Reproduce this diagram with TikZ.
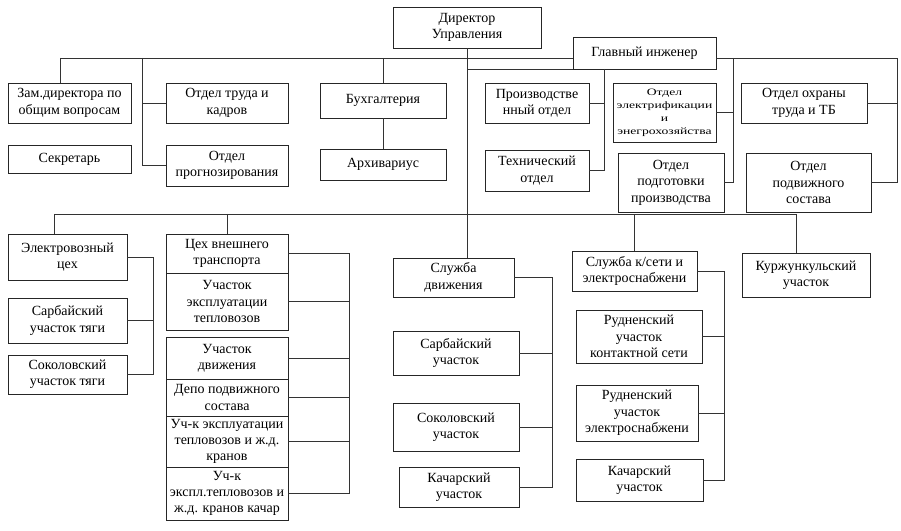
\documentclass[tikz,border=0pt]{standalone}
\usepackage{fontspec}
\setmainfont{Liberation Serif}
\newfontfamily\widefont[FakeStretch=1.4]{Liberation Serif}
\begin{document}
\begin{tikzpicture}[x=0.75pt, y=-0.75pt,
    every node/.style={font=\fontsize{10.5}{12.3}\selectfont},
    unit/.style 2 args={draw=black!85, line width=0.7pt, rectangle, align=center, inner sep=0.5pt,
        minimum width=#1*0.75pt, minimum height=#2*0.75pt},
    link/.style={draw=black!80, line width=0.7pt}]
    \useasboundingbox (0,0) rectangle (901,531);

    % Head and chief engineer
    \node[unit={148}{41}] (dir) at (467,27.5) {Директор\\Управления};
    \node[unit={143}{32}] (chief) at (644.5,53) {Главный инженер};

    % Departments under the director
    \node[unit={123}{40}] (zam)  at (69.5,103)  {Зам.директора по\\общим вопросам};
    \node[unit={123}{28}] (secr) at (69.5,159)  {Секретарь};
    \node[unit={122}{40}] (kadr) at (227,103)   {Отдел труда и\\кадров};
    \node[unit={122}{41}] (prog) at (227,165.5) {Отдел\\прогнозирования};
    \node[unit={126}{35}] (buh)  at (383,100.5) {Бухгалтерия};
    \node[unit={126}{31}] (arch) at (383,164.5) {Архивариус};

    % Departments under the chief engineer
    \node[unit={104}{40}] (proizv) at (537,103)   {Производстве\\нный отдел};
    \node[unit={104}{41}] (tech)   at (537,170.5) {Технический\\отдел};
    \node[unit={103}{59}, font=\widefont\fontsize{7.3}{9.8}\selectfont] (elektr) at (664.5,112.5) {Отдел\\электрификации\\и\\энегрохозяйства};
    \node[unit={106}{59}] (podg) at (671,182.5)   {Отдел\\подготовки\\производства};
    \node[unit={126}{40}] (ohr)  at (804,103)     {Отдел охраны\\труда и ТБ};
    \node[unit={125}{59}] (podv) at (808.5,182.5) {Отдел\\подвижного\\состава};

    % Shops
    \node[unit={119}{46}] (elc)   at (67.5,257)   {Электровозный\\цех};
    \node[unit={119}{45}] (sarbT) at (67.5,320.5) {Сарбайский\\участок тяги};
    \node[unit={119}{39}] (sokT)  at (67.5,374.5) {Соколовский\\участок тяги};

    \node[unit={122}{39}] (ceh)   at (227,253.5) {Цех внешнего\\транспорта};
    \node[unit={122}{57}] (uet)   at (227,301.5) {Участок\\эксплуатации\\тепловозов};
    \node[unit={122}{42}] (udv)   at (227,358)   {Участок\\движения};
    \node[unit={122}{37}] (depo)  at (227,397.5) {Депо подвижного\\состава};
    \node[unit={122}{51}] (uek)   at (227,441.5) {Уч-к эксплуатации\\тепловозов и ж.д.\\кранов};
    \node[unit={122}{53}] (ukach) at (227,493.5) {Уч-к\\экспл.тепловозов и\\ж.д. кранов качар};

    \node[unit={121}{39}] (sdv)  at (453.5,277.5) {Служба\\движения};
    \node[unit={126}{44}] (sarb) at (456,353)     {Сарбайский\\участок};
    \node[unit={126}{48}] (sok)  at (456,427)     {Соколовский\\участок};
    \node[unit={120}{40}] (kach) at (459,487)     {Качарский\\участок};

    \node[unit={125}{40}] (sks)   at (634.5,271) {Служба к/сети и\\электроснабжени};
    \node[unit={126}{53}] (rks)   at (639,336.5) {Рудненский\\участок\\контактной сети};
    \node[unit={122}{56}] (res)   at (637,413)   {Рудненский\\участок\\электроснабжени};
    \node[unit={127}{42}] (kach2) at (639.5,480) {Качарский\\участок};

    \node[unit={128}{44}] (kurzh) at (806,275) {Куржункульский\\участок};

    % Bus lines
    \coordinate (tbL) at (60,58);
    \coordinate (tbK) at (142,58);
    \coordinate (pbus) at (604,69);
    \coordinate (mbus) at (733,58);
    \coordinate (rbus) at (897,58);
    \coordinate (bbL) at (54,214);
    \coordinate (bbR) at (796,214);
    \coordinate (lv) at (153,0);
    \coordinate (mv) at (349,0);
    \coordinate (dv) at (552,0);
    \coordinate (kv) at (724,0);

    % Upper level
    \path[link] (dir.south) -- (dir.south |- sdv.north);
    \path[link] (tbL) -- (chief.west |- tbL);
    \path[link] (tbL) -- (tbL |- zam.north);
    \path[link] (tbK) |- (prog.west);
    \path[link] (tbK |- kadr.west) -- (kadr.west);
    \path[link] (buh.north |- tbL) -- (buh.north);
    \path[link] (buh) -- (arch);

    \path[link] (dir.south |- chief.south) -- (chief.south west);
    \path[link] (pbus) |- (tech.east);
    \path[link] (pbus |- proizv.east) -- (proizv.east);
    \path[link] (chief.east |- rbus) -- (rbus) |- (podv.east);
    \path[link] (rbus |- ohr.east) -- (ohr.east);
    \path[link] (mbus) |- (podg.east);
    \path[link] (mbus |- elektr.east) -- (elektr.east);

    % Lower level
    \path[link] (bbL) -- (bbR);
    \path[link] (bbL) -- (bbL |- elc.north);
    \path[link] (ceh.north |- bbL) -- (ceh.north);
    \path[link] (sks.north |- bbL) -- (sks.north);
    \path[link] (bbR) -- (bbR |- kurzh.north);

    \path[link] (elc.east) -| (lv |- sokT.east) -- (sokT.east);
    \path[link] (sarbT.east) -- (sarbT.east -| lv);

    \path[link] (ceh.east) -| (mv |- ukach.east) -- (ukach.east);
    \foreach \n in {uet,udv,depo,uek}
        \path[link] (\n.east) -- (\n.east -| mv);

    \path[link] (sdv.east) -| (dv |- kach.east) -- (kach.east);
    \foreach \n in {sarb,sok}
        \path[link] (\n.east) -- (\n.east -| dv);

    \path[link] (sks.east) -| (kv |- kach2.east) -- (kach2.east);
    \foreach \n in {rks,res}
        \path[link] (\n.east) -- (\n.east -| kv);
\end{tikzpicture}
\end{document}
